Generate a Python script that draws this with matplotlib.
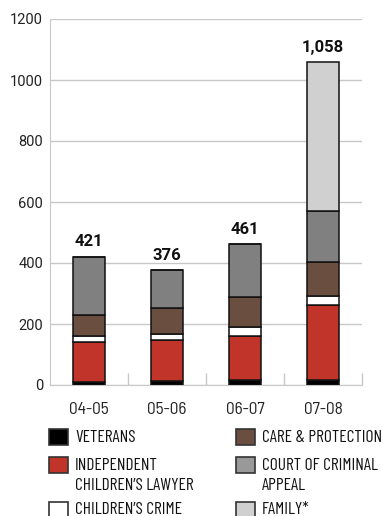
import matplotlib
matplotlib.use('Agg')
import matplotlib.pyplot as plt
from matplotlib.patches import Rectangle
import numpy as np

plt.rcParams['font.family'] = ['Barlow Semi Condensed', 'DejaVu Sans']

# Data
years = ['04-05', '05-06', '06-07', '07-08']
veterans = [11, 13, 16, 15]
icl = [130, 135, 146, 247]
childrens_crime = [21, 20, 28, 31]
care_protection = [69, 85, 100, 110]
cca = [190, 123, 171, 168]
family = [0, 0, 0, 487]
totals = ['421', '376', '461', '1,058']

series = [
    ('VETERANS', veterans, '#000000'),
    ('INDEPENDENT\nCHILDREN\u2019S LAWYER', icl, '#C0342A'),
    ('CHILDREN\u2019S CRIME', childrens_crime, '#FFFFFF'),
    ('CARE & PROTECTION', care_protection, '#6A4F40'),
    ('COURT OF CRIMINAL\nAPPEAL', cca, '#808080'),
    ('FAMILY*', family, '#D0D0D0'),
]
legend_cols = ['#000000', '#C0342A', '#FFFFFF', '#6A4F40', '#999999', '#D0D0D0']

W, H = 383, 516
fig = plt.figure(figsize=(W / 100, H / 100), dpi=100)
ax = fig.add_axes([50 / W, 1 - 385 / H, 312 / W, 366 / H])

x = np.arange(len(years))
bottom = np.zeros(len(years))
for name, vals, col in series:
    vals = np.array(vals, dtype=float)
    ax.bar(x, vals, 0.4, bottom=bottom, color=col, edgecolor='#111111',
           linewidth=1.1, zorder=3)
    bottom += vals

for xi, top, lab in zip(x, bottom, totals):
    ax.text(xi, top + 24, lab, ha='center', va='bottom', fontsize=12,
            fontweight='bold', family=['Roboto', 'DejaVu Sans'], color='#111111')

ax.set_xlim(-0.5, 3.5)
ax.set_ylim(0, 1200)
ax.set_yticks(range(0, 1201, 200))
ax.yaxis.grid(True, color='#C8C8C8', linewidth=1)
ax.set_axisbelow(True)
ax.set_xticks(x)
ax.set_xticklabels(years)
ax.set_xticks(np.arange(0.5, 4, 1), minor=True)
ax.tick_params(axis='x', which='major', length=0, pad=12, labelsize=12.5,
               labelcolor='#222222')
ax.tick_params(axis='x', which='minor', length=9, direction='in',
               color='#C8C8C8', width=1)
ax.tick_params(axis='y', length=0, pad=5, labelcolor='#222222')
for lab in ax.get_yticklabels():
    lab.set_family(['Roboto', 'DejaVu Sans'])
    lab.set_fontsize(10.5)
for s in ['top', 'right']:
    ax.spines[s].set_visible(False)
for s in ['left', 'bottom']:
    ax.spines[s].set_color('#C8C8C8')


# legend, drawn by hand so swatches line up with the first text line
def fx(px):
    return px / W


def fy(py):
    return 1 - py / H


col_x = [49, 236]
row_y = [429, 457, 502]
for i, (name, vals, col) in enumerate(series):
    cx = col_x[i // 3]
    ry = row_y[i % 3]
    fig.add_artist(Rectangle((fx(cx), fy(ry + 16)), 19 / W, 16 / H,
                             transform=fig.transFigure, facecolor=legend_cols[i],
                             edgecolor='#333333', linewidth=1.2))
    for j, line in enumerate(name.split('\n')):
        fig.text(fx(cx + 26), fy(ry + 8 + 21 * j), line, ha='left', va='center',
                 fontsize=12.5, color='#111111',
                 family=['Barlow Condensed', 'DejaVu Sans'])

fig.savefig('out.png', dpi=100)
